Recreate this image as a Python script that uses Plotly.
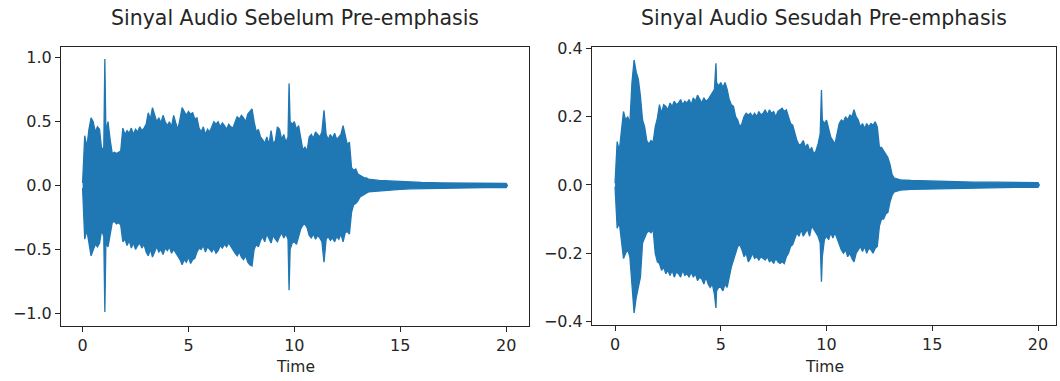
import plotly.graph_objects as go

# ---- data (envelope of the waveform) ----
# regular sample grid 0.0 .. 13.5 s (step 0.1 s) + sparse tail
grid_t = [round(0.1 * i, 1) for i in range(136)]
tail_t = [14.0, 14.5, 15.0, 15.5, 16.0, 17.0, 18.0, 19.0, 20.0, 20.06]

# "Sebelum Pre-emphasis" (before)
before_up = [
    0.02, 0.39, 0.30, 0.44, 0.53, 0.50, 0.42, 0.46, 0.44, 0.28,
    0.30, 0.42, 0.50, 0.36, 0.25, 0.26, 0.25, 0.26, 0.27, 0.45,
    0.40, 0.43, 0.41, 0.45, 0.40, 0.44, 0.42, 0.46, 0.43, 0.45,
    0.48, 0.57, 0.52, 0.61, 0.56, 0.50, 0.53, 0.49, 0.55, 0.50,
    0.47, 0.50, 0.46, 0.55, 0.49, 0.44, 0.52, 0.61, 0.58, 0.55,
    0.58, 0.56, 0.57, 0.52, 0.53, 0.45, 0.42, 0.46, 0.40, 0.44,
    0.42, 0.46, 0.50, 0.48, 0.50, 0.46, 0.49, 0.47, 0.44, 0.48,
    0.46, 0.45, 0.50, 0.54, 0.52, 0.55, 0.53, 0.50, 0.56, 0.58,
    0.60, 0.50, 0.42, 0.44, 0.38, 0.36, 0.33, 0.38, 0.32, 0.43,
    0.33, 0.35, 0.46, 0.44, 0.36, 0.40, 0.34, 0.38, 0.50, 0.48,
    0.50, 0.44, 0.47, 0.36, 0.28, 0.30, 0.27, 0.38, 0.40, 0.37,
    0.42, 0.40, 0.38, 0.42, 0.59, 0.40, 0.36, 0.40, 0.37, 0.41,
    0.36, 0.38, 0.40, 0.47, 0.38, 0.32, 0.34, 0.14, 0.12, 0.13,
    0.09, 0.08, 0.07, 0.06, 0.06, 0.05,
]
before_lo = [
    -0.02, -0.42, -0.35, -0.45, -0.55, -0.50, -0.46, -0.48, -0.45, -0.35,
    -0.40, -0.45, -0.48, -0.40, -0.29, -0.28, -0.30, -0.29, -0.31, -0.44,
    -0.42, -0.47, -0.43, -0.49, -0.45, -0.50, -0.47, -0.45, -0.49, -0.46,
    -0.52, -0.55, -0.50, -0.56, -0.52, -0.48, -0.52, -0.50, -0.54, -0.49,
    -0.51, -0.48, -0.53, -0.50, -0.52, -0.55, -0.58, -0.62, -0.58, -0.60,
    -0.56, -0.61, -0.58, -0.57, -0.52, -0.49, -0.50, -0.47, -0.52, -0.48,
    -0.50, -0.52, -0.49, -0.53, -0.51, -0.47, -0.49, -0.46, -0.48, -0.45,
    -0.47, -0.50, -0.53, -0.55, -0.52, -0.56, -0.58, -0.55, -0.60, -0.62,
    -0.63, -0.50, -0.46, -0.48, -0.43, -0.40, -0.44, -0.38, -0.42, -0.45,
    -0.39, -0.42, -0.44, -0.40, -0.37, -0.41, -0.38, -0.42, -0.50, -0.45,
    -0.44, -0.46, -0.40, -0.34, -0.31, -0.30, -0.33, -0.39, -0.41, -0.38,
    -0.42, -0.39, -0.41, -0.44, -0.60, -0.42, -0.40, -0.43, -0.41, -0.44,
    -0.40, -0.42, -0.38, -0.44, -0.37, -0.36, -0.38, -0.21, -0.15, -0.14,
    -0.12, -0.09, -0.08, -0.07, -0.06, -0.05,
]
before_tail_up = [0.04, 0.035, 0.03, 0.026, 0.024, 0.02, 0.018, 0.017, 0.016, 0.0]
before_tail_lo = [-0.04, -0.035, -0.03, -0.026, -0.024, -0.02, -0.018, -0.017, -0.016, 0.0]
before_spike_t = [1.05, 9.75]
before_spike_up = [0.99, 0.80]
before_spike_lo = [-0.99, -0.82]

# "Sesudah Pre-emphasis" (after)
after_up = [
    0.005, 0.127, 0.10, 0.15, 0.215, 0.19, 0.20, 0.18, 0.30, 0.366,
    0.33, 0.31, 0.26, 0.19, 0.17, 0.13, 0.12, 0.13, 0.125, 0.17,
    0.195, 0.235, 0.21, 0.235, 0.23, 0.22, 0.24, 0.23, 0.245, 0.235,
    0.24, 0.25, 0.235, 0.245, 0.24, 0.25, 0.235, 0.255, 0.245, 0.263,
    0.25, 0.24, 0.255, 0.245, 0.25, 0.26, 0.27, 0.28, 0.30, 0.29,
    0.30, 0.285, 0.30, 0.28, 0.25, 0.235, 0.23, 0.20, 0.19, 0.17,
    0.18, 0.20, 0.21, 0.205, 0.21, 0.20, 0.21, 0.20, 0.215, 0.205,
    0.21, 0.22, 0.205, 0.22, 0.21, 0.215, 0.20, 0.215, 0.22, 0.225,
    0.215, 0.22, 0.20, 0.18, 0.175, 0.15, 0.13, 0.117, 0.12, 0.13,
    0.11, 0.12, 0.10, 0.11, 0.09, 0.10, 0.12, 0.15, 0.19, 0.18,
    0.19, 0.16, 0.14, 0.13, 0.12, 0.15, 0.18, 0.19, 0.185, 0.20,
    0.19, 0.205, 0.20, 0.22, 0.20, 0.19, 0.17, 0.18, 0.165, 0.18,
    0.17, 0.18, 0.175, 0.185, 0.17, 0.11, 0.11, 0.10, 0.09, 0.08,
    0.06, 0.03, 0.02, 0.018, 0.016, 0.015,
]
after_lo = [
    -0.005, -0.127, -0.11, -0.16, -0.215, -0.20, -0.19, -0.21, -0.30, -0.375,
    -0.33, -0.30, -0.27, -0.17, -0.155, -0.14, -0.135, -0.14, -0.13, -0.20,
    -0.225, -0.23, -0.25, -0.24, -0.26, -0.25, -0.265, -0.25, -0.27, -0.255,
    -0.26, -0.27, -0.25, -0.265, -0.26, -0.27, -0.255, -0.27, -0.26, -0.28,
    -0.27, -0.275, -0.29, -0.27, -0.29, -0.30, -0.29, -0.32, -0.31, -0.30,
    -0.30, -0.31, -0.29, -0.30, -0.27, -0.24, -0.215, -0.20, -0.18, -0.175,
    -0.19, -0.21, -0.20, -0.225, -0.215, -0.20, -0.215, -0.21, -0.22, -0.21,
    -0.215, -0.22, -0.21, -0.225, -0.22, -0.23, -0.215, -0.225, -0.23, -0.225,
    -0.23, -0.21, -0.20, -0.18, -0.175, -0.16, -0.14, -0.15, -0.13, -0.15,
    -0.14, -0.13, -0.15, -0.12, -0.13, -0.14, -0.15, -0.17, -0.21, -0.16,
    -0.15, -0.16, -0.14, -0.155, -0.14, -0.16, -0.175, -0.19, -0.20, -0.19,
    -0.21, -0.20, -0.215, -0.225, -0.20, -0.19, -0.18, -0.195, -0.18, -0.20,
    -0.185, -0.19, -0.20, -0.185, -0.18, -0.12, -0.10, -0.10, -0.085, -0.08,
    -0.05, -0.03, -0.02, -0.018, -0.016, -0.015,
]
after_tail_up = [0.013, 0.012, 0.011, 0.010, 0.009, 0.008, 0.008, 0.007, 0.007, 0.0]
after_tail_lo = [-0.013, -0.012, -0.011, -0.010, -0.009, -0.008, -0.008, -0.007, -0.007, 0.0]
after_spike_t = [4.77, 9.76]
after_spike_up = [0.356, 0.278]
after_spike_lo = [-0.36, -0.283]

titles = ["Sinyal Audio Sebelum Pre-emphasis", "Sinyal Audio Sesudah Pre-emphasis"]
x_label = "Time"
x_ticks = [0, 5, 10, 15, 20]
y_ticks_before = [-1.0, -0.5, 0.0, 0.5, 1.0]
y_ticks_after = [-0.4, -0.2, 0.0, 0.2, 0.4]

BLUE = "#1f77b4"
INK = "#262626"
FONT = "DejaVu Sans"


def envelope(ts, up, lo, tt, tu, tl, st, su, sl):
    rows = list(zip(ts, up, lo)) + list(zip(tt, tu, tl)) + list(zip(st, su, sl))
    rows.sort(key=lambda r: r[0])
    t = [r[0] for r in rows]
    u = [r[1] for r in rows]
    l = [r[2] for r in rows]
    return t + t[::-1], u + l[::-1]


fig = go.Figure()
bx, by = envelope(grid_t, before_up, before_lo, tail_t, before_tail_up, before_tail_lo,
                  before_spike_t, before_spike_up, before_spike_lo)
ax_, ay_ = envelope(grid_t, after_up, after_lo, tail_t, after_tail_up, after_tail_lo,
                    after_spike_t, after_spike_up, after_spike_lo)
fig.add_trace(go.Scatter(x=bx, y=by, mode="lines", fill="toself", fillcolor=BLUE,
                         line=dict(color=BLUE, width=1.3), xaxis="x", yaxis="y",
                         hoverinfo="skip"))
fig.add_trace(go.Scatter(x=ax_, y=ay_, mode="lines", fill="toself", fillcolor=BLUE,
                         line=dict(color=BLUE, width=1.3), xaxis="x2", yaxis="y2",
                         hoverinfo="skip"))

W, H = 1060, 381
common = dict(showgrid=False, zeroline=False, showline=True, mirror=True,
              linecolor=INK, linewidth=1, ticks="outside", ticklen=5, tickwidth=1,
              tickcolor=INK, automargin=False,
              tickfont=dict(family=FONT, size=16, color=INK))

fig.update_layout(
    width=W, height=H, autosize=False, showlegend=False,
    margin=dict(l=0, r=0, t=0, b=0, pad=0, autoexpand=False),
    paper_bgcolor="white", plot_bgcolor="white",
    xaxis=dict(domain=[61 / W, 529 / W], range=[-1.02, 21.08], tickvals=x_ticks,
               anchor="y", **common),
    yaxis=dict(domain=[1 - 326 / H, 1 - 47 / H], range=[-1.10, 1.085],
               tickvals=y_ticks_before, tickformat=".1f", anchor="x", **common),
    xaxis2=dict(domain=[592 / W, 1056 / W], range=[-1.09, 20.85], tickvals=x_ticks,
                anchor="y2", **common),
    yaxis2=dict(domain=[1 - 325 / H, 1 - 47.3 / H], range=[-0.41, 0.403],
                tickvals=y_ticks_after, tickformat=".1f", anchor="x2", **common),
)

for cx, title in zip([(61 + 529) / 2 / W, (592 + 1056) / 2 / W], titles):
    fig.add_annotation(x=cx, y=1 - 18 / H, xref="paper", yref="paper", text=title,
                       showarrow=False, xanchor="center", yanchor="middle",
                       font=dict(family=FONT, size=20.5, color=INK))
    fig.add_annotation(x=cx, y=1 - 367 / H, xref="paper", yref="paper", text=x_label,
                       showarrow=False, xanchor="center", yanchor="middle",
                       font=dict(family=FONT, size=15.5, color=INK))

fig.write_html("out.html",
               config={"displayModeBar": False, "staticPlot": True},
               post_script="document.body.style.margin='0px';"
                           "document.body.style.padding='0px';")
